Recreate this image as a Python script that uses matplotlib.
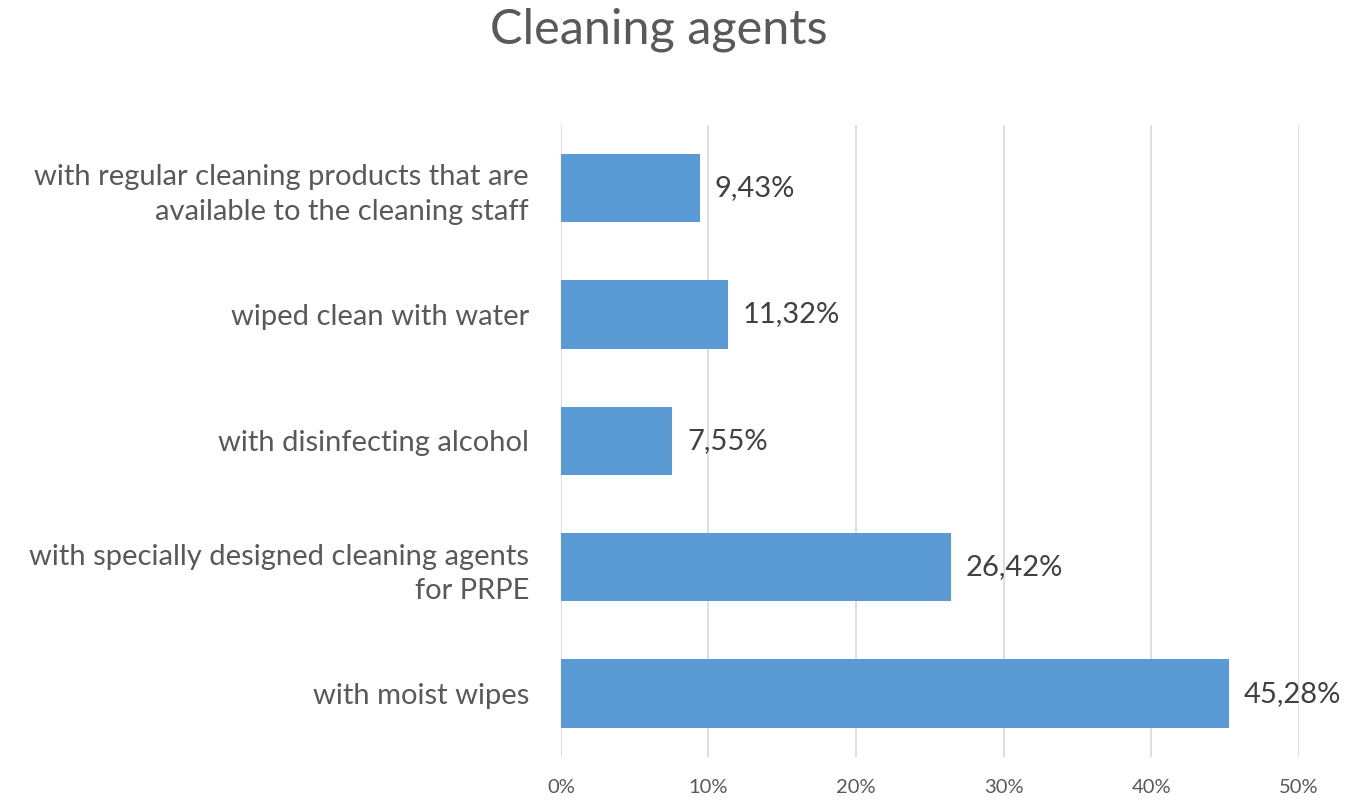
import matplotlib.pyplot as plt

categories = [
    "with regular cleaning products that are\navailable to the cleaning staff",
    "wiped clean with water",
    "with disinfecting alcohol",
    "with specially designed cleaning agents\nfor PRPE",
    "with moist wipes",
]
values = [9.43, 11.32, 7.55, 26.42, 45.28]
xticks = [0, 10, 20, 30, 40, 50]

plt.rcParams["font.family"] = ["Lato", "DejaVu Sans"]
grey = "#595959"

fig = plt.figure(figsize=(13.58, 8), dpi=100)
ax = fig.add_axes([0.413, 0.054, 0.5436, 0.79])

pos = list(range(len(categories)))
ax.barh(pos, values, height=0.54, color="#5B9BD5", zorder=3)
ax.set_ylim(len(categories) - 0.5, -0.5)
ax.set_xlim(0, 50)

for p, v in zip(pos, values):
    ax.text(v + 1.0, p, f"{v:.2f}%".replace(".", ","), va="center", ha="left",
            fontsize=21, color="#404040")

ax.set_yticks(pos)
ax.set_yticklabels(categories, fontsize=21, color=grey, ha="right", linespacing=1.4)
ax.tick_params(axis="y", length=0, pad=23)

ax.set_xticks(xticks)
ax.set_xticklabels([f"{t}%" for t in xticks], fontsize=14.5, color=grey)
ax.tick_params(axis="x", length=0, pad=16)

ax.grid(axis="x", color="#D9D9D9", linewidth=1.2, zorder=0)
for s in ax.spines.values():
    s.set_visible(False)

fig.suptitle("Cleaning agents", fontsize=35, color=grey, x=0.485, y=0.99, va="top")

fig.savefig("out.png", dpi=100)
